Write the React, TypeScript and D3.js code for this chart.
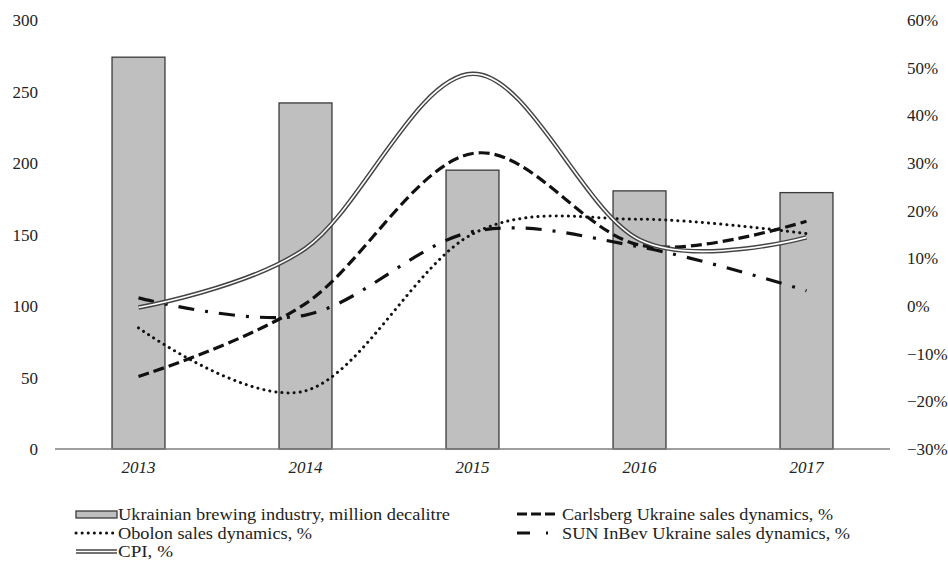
import React from "react"
import * as d3 from "d3"

const years = ["2013", "2014", "2015", "2016", "2017"]
const brewing = [274, 242, 195, 180.5, 179.3]
const carlsberg = [-14.8, 0.5, 32, 12.8, 17.8]
const obolon = [-4.6, -17.8, 15.1, 18.2, 15.2]
const sunInbev = [1.7, -1.9, 15.6, 12.4, 3.2]
const cpi = [-0.3, 12.1, 48.7, 13.9, 14.4]
const leftTicks = [0, 50, 100, 150, 200, 250, 300]
const rightTicks = [-0.3, -0.2, -0.1, 0, 0.1, 0.2, 0.3, 0.4, 0.5, 0.6]

const W = 948
const H = 561
const font = "'Liberation Serif', 'Times New Roman', serif"

export default function App() {
    const x = d3
        .scaleBand()
        .domain(years)
        .range([55, 890])
        .paddingInner(0.683)
        .paddingOuter(0.3415)
    const yL = d3.scaleLinear().domain([0, 300]).range([449, 20])
    const yR = d3.scaleLinear().domain([-0.3, 0.6]).range([449, 20])
    const cx = (i: number) => (x(years[i]) as number) + x.bandwidth() / 2

    const line = d3
        .line<number>()
        .x((d, i) => cx(i))
        .y(d => yR(d / 100))
        .curve(d3.curveCardinal.tension(0))

    const fmtPct = d3.format(".0%")

    return (
        <svg width={W} height={H} style={{ position: "absolute", left: 0, top: 0, background: "#fff" }} fontFamily={font}>
            {/* left axis labels */}
            {leftTicks.map(t => (
                <text key={"l" + t} x={38} y={yL(t) + 6} textAnchor="end" fontSize={17} fill="#222">
                    {t}
                </text>
            ))}
            {/* right axis labels */}
            {rightTicks.map(t => (
                <text key={"r" + t} x={907} y={yR(t) + 6} textAnchor="start" fontSize={17} fill="#222">
                    {fmtPct(t)}
                </text>
            ))}
            {/* bars */}
            {brewing.map((v, i) => (
                <rect
                    key={"b" + i}
                    x={x(years[i])}
                    y={yL(v)}
                    width={x.bandwidth()}
                    height={yL(0) - yL(v)}
                    fill="#bfbfbf"
                    stroke="#3a3a3a"
                    strokeWidth={1.3}
                />
            ))}
            {/* x axis */}
            <line x1={55} x2={890} y1={449} y2={449} stroke="#7f7f7f" strokeWidth={1.3} />
            {years.map((y, i) => (
                <text key={"x" + y} x={cx(i)} y={473} textAnchor="middle" fontSize={17} fontStyle="italic" fill="#222">
                    {y}
                </text>
            ))}
            {/* lines */}
            <path d={line(obolon) as string} fill="none" stroke="#111" strokeWidth={3} strokeDasharray="0.1 6" strokeLinecap="round" />
            <path d={line(carlsberg) as string} fill="none" stroke="#111" strokeWidth={3.2} strokeDasharray="11 5" />
            <path d={line(sunInbev) as string} fill="none" stroke="#111" strokeWidth={3.2} strokeDasharray="16 11 3 11" />
            <path d={line(cpi) as string} fill="none" stroke="#444" strokeWidth={4.5} />
            <path d={line(cpi) as string} fill="none" stroke="#fff" strokeWidth={1.6} />

            {/* legend */}
            <g fontSize={17} fill="#222">
                <rect x={76} y={511} width={41} height={7} fill="#bfbfbf" stroke="#3a3a3a" strokeWidth={1.3} />
                <text x={118} y={520} textLength={332} lengthAdjust="spacingAndGlyphs">Ukrainian brewing industry, million decalitre</text>

                <line x1={517} x2={559} y1={514} y2={514} stroke="#111" strokeWidth={3.2} strokeDasharray="10 4" />
                <text x={562} y={520} textLength={271} lengthAdjust="spacingAndGlyphs">Carlsberg Ukraine sales dynamics, %</text>

                <line x1={76} x2={117} y1={533} y2={533} stroke="#111" strokeWidth={3} strokeDasharray="0.1 6" strokeLinecap="round" />
                <text x={118} y={538.5} textLength={194} lengthAdjust="spacingAndGlyphs">Obolon sales dynamics, %</text>

                <line x1={517} x2={548} y1={533} y2={533} stroke="#111" strokeWidth={3.2} strokeDasharray="13 16 3 30" />
                <text x={562} y={538.5} textLength={288} lengthAdjust="spacingAndGlyphs">SUN InBev Ukraine sales dynamics, %</text>

                <line x1={76} x2={117} y1={551.5} y2={551.5} stroke="#444" strokeWidth={4.5} />
                <line x1={76} x2={117} y1={551.5} y2={551.5} stroke="#fff" strokeWidth={1.6} />
                <text x={118} y={557} textLength={55} lengthAdjust="spacingAndGlyphs">CPI, %</text>
            </g>
        </svg>
    )
}
